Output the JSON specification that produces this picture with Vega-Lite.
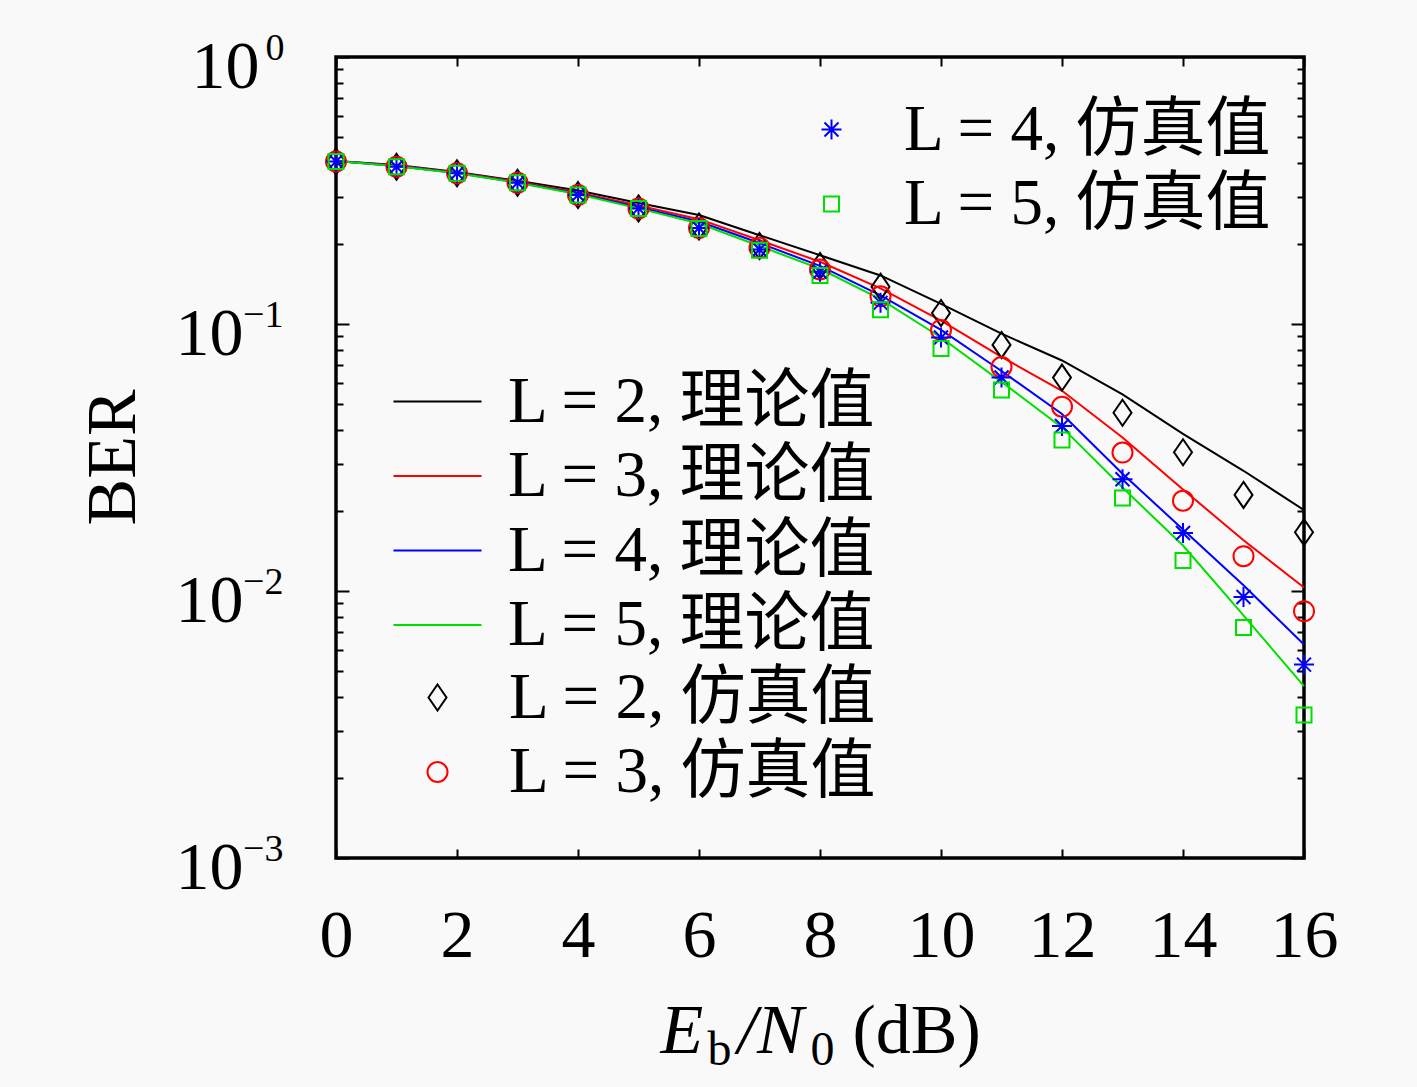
{
  "$schema": "https://vega.github.io/schema/vega-lite/v6.json",
  "width": 968,
  "height": 801,
  "autosize": "none",
  "padding": {"left": 336, "top": 57, "right": 113, "bottom": 229},
  "background": "#f9f9f9",
  "config": {
    "view": {"stroke": "#000000", "strokeWidth": 3.5},
    "axis": {
      "domain": false,
      "grid": false,
      "labelFont": "Liberation Serif",
      "titleFont": "Liberation Serif",
      "labelColor": "#000000",
      "titleColor": "#000000",
      "tickColor": "#000000",
      "tickWidth": 2,
      "titleFontWeight": "normal",
      "labelFlush": false,
      "labelOverlap": false
    },
    "legend": {
      "labelFont": "Liberation Serif, Noto Sans CJK SC",
      "labelFontSize": 65,
      "labelColor": "#000000",
      "rowPadding": 8.5,
      "padding": 0,
      "labelLimit": 600
    }
  },
  "datasets": {
    "theory": [
      {"snr": 0, "L": 2, "curve": "L = 2, 理论值", "ber": 0.408},
      {"snr": 1, "L": 2, "curve": "L = 2, 理论值", "ber": 0.394},
      {"snr": 2, "L": 2, "curve": "L = 2, 理论值", "ber": 0.371},
      {"snr": 3, "L": 2, "curve": "L = 2, 理论值", "ber": 0.344},
      {"snr": 4, "L": 2, "curve": "L = 2, 理论值", "ber": 0.316},
      {"snr": 5, "L": 2, "curve": "L = 2, 理论值", "ber": 0.284},
      {"snr": 6, "L": 2, "curve": "L = 2, 理论值", "ber": 0.256},
      {"snr": 7, "L": 2, "curve": "L = 2, 理论值", "ber": 0.215},
      {"snr": 8, "L": 2, "curve": "L = 2, 理论值", "ber": 0.181},
      {"snr": 9, "L": 2, "curve": "L = 2, 理论值", "ber": 0.152},
      {"snr": 10, "L": 2, "curve": "L = 2, 理论值", "ber": 0.119},
      {"snr": 11, "L": 2, "curve": "L = 2, 理论值", "ber": 0.092},
      {"snr": 12, "L": 2, "curve": "L = 2, 理论值", "ber": 0.073},
      {"snr": 13, "L": 2, "curve": "L = 2, 理论值", "ber": 0.0545},
      {"snr": 14, "L": 2, "curve": "L = 2, 理论值", "ber": 0.0388},
      {"snr": 15, "L": 2, "curve": "L = 2, 理论值", "ber": 0.0282},
      {"snr": 16, "L": 2, "curve": "L = 2, 理论值", "ber": 0.0201},
      {"snr": 0, "L": 3, "curve": "L = 3, 理论值", "ber": 0.408},
      {"snr": 1, "L": 3, "curve": "L = 3, 理论值", "ber": 0.392},
      {"snr": 2, "L": 3, "curve": "L = 3, 理论值", "ber": 0.369},
      {"snr": 3, "L": 3, "curve": "L = 3, 理论值", "ber": 0.341},
      {"snr": 4, "L": 3, "curve": "L = 3, 理论值", "ber": 0.311},
      {"snr": 5, "L": 3, "curve": "L = 3, 理论值", "ber": 0.278},
      {"snr": 6, "L": 3, "curve": "L = 3, 理论值", "ber": 0.247},
      {"snr": 7, "L": 3, "curve": "L = 3, 理论值", "ber": 0.206},
      {"snr": 8, "L": 3, "curve": "L = 3, 理论值", "ber": 0.171},
      {"snr": 9, "L": 3, "curve": "L = 3, 理论值", "ber": 0.136},
      {"snr": 10, "L": 3, "curve": "L = 3, 理论值", "ber": 0.103},
      {"snr": 11, "L": 3, "curve": "L = 3, 理论值", "ber": 0.0753},
      {"snr": 12, "L": 3, "curve": "L = 3, 理论值", "ber": 0.0562},
      {"snr": 13, "L": 3, "curve": "L = 3, 理论值", "ber": 0.0376},
      {"snr": 14, "L": 3, "curve": "L = 3, 理论值", "ber": 0.024},
      {"snr": 15, "L": 3, "curve": "L = 3, 理论值", "ber": 0.0155},
      {"snr": 16, "L": 3, "curve": "L = 3, 理论值", "ber": 0.0103},
      {"snr": 0, "L": 4, "curve": "L = 4, 理论值", "ber": 0.408},
      {"snr": 1, "L": 4, "curve": "L = 4, 理论值", "ber": 0.391},
      {"snr": 2, "L": 4, "curve": "L = 4, 理论值", "ber": 0.368},
      {"snr": 3, "L": 4, "curve": "L = 4, 理论值", "ber": 0.339},
      {"snr": 4, "L": 4, "curve": "L = 4, 理论值", "ber": 0.308},
      {"snr": 5, "L": 4, "curve": "L = 4, 理论值", "ber": 0.274},
      {"snr": 6, "L": 4, "curve": "L = 4, 理论值", "ber": 0.242},
      {"snr": 7, "L": 4, "curve": "L = 4, 理论值", "ber": 0.201},
      {"snr": 8, "L": 4, "curve": "L = 4, 理论值", "ber": 0.165},
      {"snr": 9, "L": 4, "curve": "L = 4, 理论值", "ber": 0.128},
      {"snr": 10, "L": 4, "curve": "L = 4, 理论值", "ber": 0.095},
      {"snr": 11, "L": 4, "curve": "L = 4, 理论值", "ber": 0.0667},
      {"snr": 12, "L": 4, "curve": "L = 4, 理论值", "ber": 0.046},
      {"snr": 13, "L": 4, "curve": "L = 4, 理论值", "ber": 0.0275},
      {"snr": 14, "L": 4, "curve": "L = 4, 理论值", "ber": 0.017},
      {"snr": 15, "L": 4, "curve": "L = 4, 理论值", "ber": 0.0105},
      {"snr": 16, "L": 4, "curve": "L = 4, 理论值", "ber": 0.0063},
      {"snr": 0, "L": 5, "curve": "L = 5, 理论值", "ber": 0.408},
      {"snr": 1, "L": 5, "curve": "L = 5, 理论值", "ber": 0.39},
      {"snr": 2, "L": 5, "curve": "L = 5, 理论值", "ber": 0.367},
      {"snr": 3, "L": 5, "curve": "L = 5, 理论值", "ber": 0.338},
      {"snr": 4, "L": 5, "curve": "L = 5, 理论值", "ber": 0.306},
      {"snr": 5, "L": 5, "curve": "L = 5, 理论值", "ber": 0.271},
      {"snr": 6, "L": 5, "curve": "L = 5, 理论值", "ber": 0.238},
      {"snr": 7, "L": 5, "curve": "L = 5, 理论值", "ber": 0.196},
      {"snr": 8, "L": 5, "curve": "L = 5, 理论值", "ber": 0.161},
      {"snr": 9, "L": 5, "curve": "L = 5, 理论值", "ber": 0.124},
      {"snr": 10, "L": 5, "curve": "L = 5, 理论值", "ber": 0.089},
      {"snr": 11, "L": 5, "curve": "L = 5, 理论值", "ber": 0.0607},
      {"snr": 12, "L": 5, "curve": "L = 5, 理论值", "ber": 0.041},
      {"snr": 13, "L": 5, "curve": "L = 5, 理论值", "ber": 0.0244},
      {"snr": 14, "L": 5, "curve": "L = 5, 理论值", "ber": 0.0148},
      {"snr": 15, "L": 5, "curve": "L = 5, 理论值", "ber": 0.0081},
      {"snr": 16, "L": 5, "curve": "L = 5, 理论值", "ber": 0.0044}
    ],
    "sim": [
      {"snr": 0, "L": 2, "series": "L = 2, 仿真值", "ber": 0.406},
      {"snr": 1, "L": 2, "series": "L = 2, 仿真值", "ber": 0.388},
      {"snr": 2, "L": 2, "series": "L = 2, 仿真值", "ber": 0.367},
      {"snr": 3, "L": 2, "series": "L = 2, 仿真值", "ber": 0.338},
      {"snr": 4, "L": 2, "series": "L = 2, 仿真值", "ber": 0.304},
      {"snr": 5, "L": 2, "series": "L = 2, 仿真值", "ber": 0.271},
      {"snr": 6, "L": 2, "series": "L = 2, 仿真值", "ber": 0.232},
      {"snr": 7, "L": 2, "series": "L = 2, 仿真值", "ber": 0.196},
      {"snr": 8, "L": 2, "series": "L = 2, 仿真值", "ber": 0.165},
      {"snr": 9, "L": 2, "series": "L = 2, 仿真值", "ber": 0.138},
      {"snr": 10, "L": 2, "series": "L = 2, 仿真值", "ber": 0.11},
      {"snr": 11, "L": 2, "series": "L = 2, 仿真值", "ber": 0.0835},
      {"snr": 12, "L": 2, "series": "L = 2, 仿真值", "ber": 0.063},
      {"snr": 13, "L": 2, "series": "L = 2, 仿真值", "ber": 0.0465},
      {"snr": 14, "L": 2, "series": "L = 2, 仿真值", "ber": 0.0331},
      {"snr": 15, "L": 2, "series": "L = 2, 仿真值", "ber": 0.0229},
      {"snr": 16, "L": 2, "series": "L = 2, 仿真值", "ber": 0.0166},
      {"snr": 0, "L": 3, "series": "L = 3, 仿真值", "ber": 0.406},
      {"snr": 1, "L": 3, "series": "L = 3, 仿真值", "ber": 0.388},
      {"snr": 2, "L": 3, "series": "L = 3, 仿真值", "ber": 0.367},
      {"snr": 3, "L": 3, "series": "L = 3, 仿真值", "ber": 0.338},
      {"snr": 4, "L": 3, "series": "L = 3, 仿真值", "ber": 0.304},
      {"snr": 5, "L": 3, "series": "L = 3, 仿真值", "ber": 0.271},
      {"snr": 6, "L": 3, "series": "L = 3, 仿真值", "ber": 0.229},
      {"snr": 7, "L": 3, "series": "L = 3, 仿真值", "ber": 0.193},
      {"snr": 8, "L": 3, "series": "L = 3, 仿真值", "ber": 0.16},
      {"snr": 9, "L": 3, "series": "L = 3, 仿真值", "ber": 0.127},
      {"snr": 10, "L": 3, "series": "L = 3, 仿真值", "ber": 0.095},
      {"snr": 11, "L": 3, "series": "L = 3, 仿真值", "ber": 0.069},
      {"snr": 12, "L": 3, "series": "L = 3, 仿真值", "ber": 0.049},
      {"snr": 13, "L": 3, "series": "L = 3, 仿真值", "ber": 0.033},
      {"snr": 14, "L": 3, "series": "L = 3, 仿真值", "ber": 0.0218},
      {"snr": 15, "L": 3, "series": "L = 3, 仿真值", "ber": 0.0135},
      {"snr": 16, "L": 3, "series": "L = 3, 仿真值", "ber": 0.0084},
      {"snr": 0, "L": 4, "series": "L = 4, 仿真值", "ber": 0.406},
      {"snr": 1, "L": 4, "series": "L = 4, 仿真值", "ber": 0.388},
      {"snr": 2, "L": 4, "series": "L = 4, 仿真值", "ber": 0.367},
      {"snr": 3, "L": 4, "series": "L = 4, 仿真值", "ber": 0.338},
      {"snr": 4, "L": 4, "series": "L = 4, 仿真值", "ber": 0.304},
      {"snr": 5, "L": 4, "series": "L = 4, 仿真值", "ber": 0.271},
      {"snr": 6, "L": 4, "series": "L = 4, 仿真值", "ber": 0.229},
      {"snr": 7, "L": 4, "series": "L = 4, 仿真值", "ber": 0.19},
      {"snr": 8, "L": 4, "series": "L = 4, 仿真值", "ber": 0.157},
      {"snr": 9, "L": 4, "series": "L = 4, 仿真值", "ber": 0.12},
      {"snr": 10, "L": 4, "series": "L = 4, 仿真值", "ber": 0.089},
      {"snr": 11, "L": 4, "series": "L = 4, 仿真值", "ber": 0.063},
      {"snr": 12, "L": 4, "series": "L = 4, 仿真值", "ber": 0.0415},
      {"snr": 13, "L": 4, "series": "L = 4, 仿真值", "ber": 0.0262},
      {"snr": 14, "L": 4, "series": "L = 4, 仿真值", "ber": 0.0165},
      {"snr": 15, "L": 4, "series": "L = 4, 仿真值", "ber": 0.0095},
      {"snr": 16, "L": 4, "series": "L = 4, 仿真值", "ber": 0.0053},
      {"snr": 0, "L": 5, "series": "L = 5, 仿真值", "ber": 0.406},
      {"snr": 1, "L": 5, "series": "L = 5, 仿真值", "ber": 0.388},
      {"snr": 2, "L": 5, "series": "L = 5, 仿真值", "ber": 0.367},
      {"snr": 3, "L": 5, "series": "L = 5, 仿真值", "ber": 0.338},
      {"snr": 4, "L": 5, "series": "L = 5, 仿真值", "ber": 0.304},
      {"snr": 5, "L": 5, "series": "L = 5, 仿真值", "ber": 0.271},
      {"snr": 6, "L": 5, "series": "L = 5, 仿真值", "ber": 0.228},
      {"snr": 7, "L": 5, "series": "L = 5, 仿真值", "ber": 0.189},
      {"snr": 8, "L": 5, "series": "L = 5, 仿真值", "ber": 0.152},
      {"snr": 9, "L": 5, "series": "L = 5, 仿真值", "ber": 0.113},
      {"snr": 10, "L": 5, "series": "L = 5, 仿真值", "ber": 0.081},
      {"snr": 11, "L": 5, "series": "L = 5, 仿真值", "ber": 0.0566},
      {"snr": 12, "L": 5, "series": "L = 5, 仿真值", "ber": 0.0368},
      {"snr": 13, "L": 5, "series": "L = 5, 仿真值", "ber": 0.0223},
      {"snr": 14, "L": 5, "series": "L = 5, 仿真值", "ber": 0.013},
      {"snr": 15, "L": 5, "series": "L = 5, 仿真值", "ber": 0.0073},
      {"snr": 16, "L": 5, "series": "L = 5, 仿真值", "ber": 0.00343}
    ]
  },
  "layer": [
    {
      "data": {"name": "theory"},
      "transform": [{"filter": "datum.L <= 3"}],
      "mark": {"type": "line", "strokeWidth": 2},
      "encoding": {
        "x": {
          "field": "snr", "type": "quantitative",
          "scale": {"domain": [0, 16], "nice": false},
          "axis": {
            "orient": "bottom", "values": [0, 2, 4, 6, 8, 10, 12, 14, 16],
            "ticks": false, "labelFontSize": 68, "labelPadding": 44,
            "title": "E", "titleFontStyle": "italic", "titleFontSize": 70,
            "titleX": 324, "titleY": 194, "titleAlign": "left", "titleBaseline": "alphabetic", "titleAngle": 0
          }
        },
        "y": {
          "field": "ber", "type": "quantitative",
          "scale": {"type": "log", "domain": [0.001, 1], "nice": false},
          "axis": {
            "orient": "left", "values": [0.001, 0.01, 0.1, 1],
            "ticks": false, "labelExpr": "'10'", "labelFontSize": 68,
            "labelPadding": {"condition": {"test": "datum.value >= 1", "value": 77}, "value": 93},
            "labelOffset": 10, "labelBaseline": "middle",
            "title": "BER", "titleFontSize": 70, "titleX": -223, "titleY": 400,
            "titleAngle": -90, "titleAlign": "center", "titleBaseline": "middle"
          }
        },
        "color": {
          "field": "curve", "type": "nominal",
          "scale": {
            "domain": ["L = 2, 理论值", "L = 3, 理论值", "L = 4, 理论值", "L = 5, 理论值"],
            "range": ["#000000", "#ff0000", "#0000ff", "#00e000"]
          },
          "legend": {
            "title": null, "orient": "none", "legendX": 69, "legendY": 312,
            "symbolType": "M-2.5,0H2.5", "symbolSize": 1240, "symbolStrokeWidth": 2,
            "labelOffset": 38
          }
        }
      }
    },
    {
      "data": {"name": "theory"},
      "transform": [{"filter": "datum.L >= 4"}],
      "mark": {"type": "line", "strokeWidth": 2},
      "encoding": {
        "x": {
          "field": "snr", "type": "quantitative",
          "axis": {
            "orient": "top", "values": [0, 2, 4, 6, 8, 10, 12, 14, 16],
            "tickSize": -9, "labels": false,
            "title": "/N", "titleFontStyle": "italic", "titleFontSize": 70,
            "titleX": 401, "titleY": 995, "titleAlign": "left", "titleBaseline": "alphabetic", "titleAngle": 0
          }
        },
        "y": {
          "field": "ber", "type": "quantitative",
          "axis": {
            "orient": "left", "values": [0.001, 0.01, 0.1, 1], "ticks": false,
            "labelExpr": "datum.value >= 1 ? '0' : datum.value >= 0.1 ? '−1' : datum.value >= 0.01 ? '−2' : '−3'",
            "labelFontSize": 38,
            "labelPadding": {"condition": {"test": "datum.value >= 1", "value": 52}, "value": 53},
            "labelOffset": -9, "labelBaseline": "middle",
            "title": "(dB)", "titleFontSize": 70, "titleX": 516, "titleY": 995,
            "titleAngle": 0, "titleAlign": "left", "titleBaseline": "alphabetic"
          }
        },
        "color": {
          "field": "curve", "type": "nominal",
          "legend": {
            "title": null, "orient": "none", "legendX": 69, "legendY": 312,
            "symbolType": "M-2.5,0H2.5", "symbolSize": 1240, "symbolStrokeWidth": 2,
            "labelOffset": 38
          }
        }
      }
    },
    {
      "data": {"name": "sim"},
      "transform": [{"filter": "datum.L <= 3"}],
      "mark": {"type": "point", "filled": false, "size": 400, "strokeWidth": 2, "opacity": 1},
      "encoding": {
        "x": {
          "field": "snr", "type": "quantitative",
          "axis": {
            "orient": "bottom", "values": [0, 2, 4, 6, 8, 10, 12, 14, 16],
            "tickSize": -9, "labels": false,
            "title": "b", "titleFontSize": 48,
            "titleX": 371, "titleY": 206, "titleAlign": "left", "titleBaseline": "alphabetic", "titleAngle": 0
          }
        },
        "y": {
          "field": "ber", "type": "quantitative",
          "axis": {
            "orient": "left",
            "values": [0.001, 0.002, 0.003, 0.004, 0.005, 0.006, 0.007, 0.008, 0.009, 0.01, 0.02, 0.03, 0.04, 0.05, 0.06, 0.07, 0.08, 0.09, 0.1, 0.2, 0.3, 0.4, 0.5, 0.6, 0.7, 0.8, 0.9, 1],
            "labels": false, "title": null,
            "tickSize": {"condition": {"test": "indexof([1, 0.1, 0.01, 0.001], datum.value) >= 0", "value": -13}, "value": -7}
          }
        },
        "shape": {
          "field": "series", "type": "nominal",
          "scale": {"domain": ["L = 2, 仿真值", "L = 3, 仿真值"], "range": ["M0,-1.3L0.9,0L0,1.3L-0.9,0Z", "circle"]},
          "legend": {"title": null, "orient": "none", "legendX": 69, "legendY": 608, "symbolSize": 400, "symbolStrokeWidth": 2, "labelOffset": 39}
        },
        "stroke": {
          "field": "series", "type": "nominal",
          "scale": {"domain": ["L = 2, 仿真值", "L = 3, 仿真值"], "range": ["#000000", "#ff0000"]},
          "legend": {"title": null, "orient": "none", "legendX": 69, "legendY": 608, "symbolSize": 400, "symbolStrokeWidth": 2, "labelOffset": 39}
        }
      }
    },
    {
      "data": {"name": "sim"},
      "transform": [{"filter": "datum.L >= 4"}],
      "mark": {"type": "point", "filled": false, "size": 400, "strokeWidth": 2, "opacity": 1},
      "encoding": {
        "x": {
          "field": "snr", "type": "quantitative",
          "axis": {
            "orient": "bottom", "ticks": false, "labels": false,
            "title": "0", "titleFontSize": 48,
            "titleX": 474, "titleY": 206, "titleAlign": "left", "titleBaseline": "alphabetic", "titleAngle": 0
          }
        },
        "y": {
          "field": "ber", "type": "quantitative",
          "axis": {
            "orient": "right",
            "values": [0.001, 0.002, 0.003, 0.004, 0.005, 0.006, 0.007, 0.008, 0.009, 0.01, 0.02, 0.03, 0.04, 0.05, 0.06, 0.07, 0.08, 0.09, 0.1, 0.2, 0.3, 0.4, 0.5, 0.6, 0.7, 0.8, 0.9, 1],
            "labels": false, "title": null,
            "tickSize": {"condition": {"test": "indexof([1, 0.1, 0.01, 0.001], datum.value) >= 0", "value": -13}, "value": -7}
          }
        },
        "shape": {
          "field": "series", "type": "nominal",
          "scale": {"domain": ["L = 4, 仿真值", "L = 5, 仿真值"], "range": ["M0,-1V1M-1,0H1M-0.7,-0.7L0.7,0.7M-0.7,0.7L0.7,-0.7", "M-0.75,-0.75H0.75V0.75H-0.75Z"]},
          "legend": {"title": null, "orient": "none", "legendX": 463, "legendY": 40, "symbolSize": 400, "symbolStrokeWidth": 2, "labelOffset": 40}
        },
        "stroke": {
          "field": "series", "type": "nominal",
          "scale": {"domain": ["L = 4, 仿真值", "L = 5, 仿真值"], "range": ["#0000ff", "#00e000"]},
          "legend": {"title": null, "orient": "none", "legendX": 463, "legendY": 40, "symbolSize": 400, "symbolStrokeWidth": 2, "labelOffset": 40}
        }
      }
    }
  ],
  "resolve": {
    "scale": {"stroke": "independent", "shape": "independent"},
    "axis": {"x": "independent", "y": "independent"}
  }
}
